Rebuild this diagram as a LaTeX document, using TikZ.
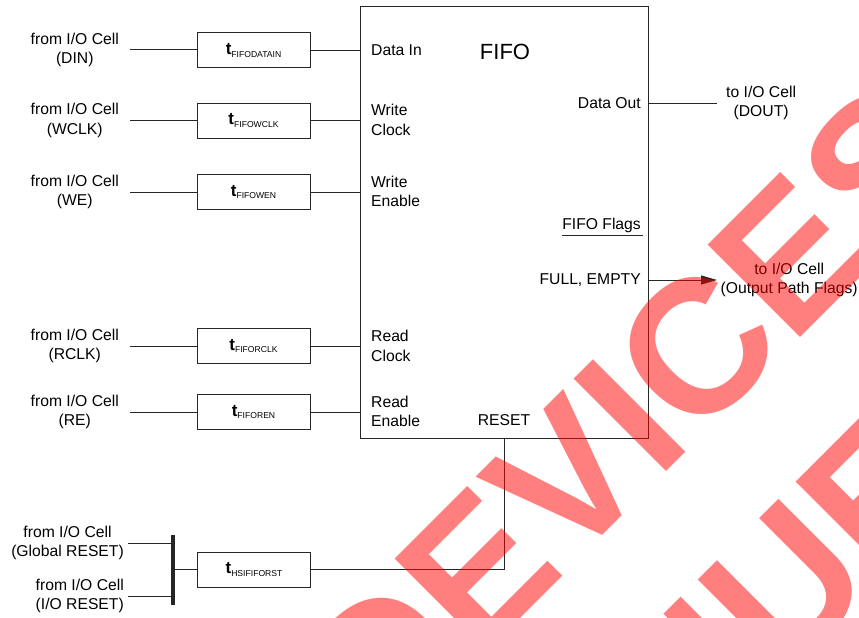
\documentclass[tikz,border=0pt]{standalone}
\usepackage{fontspec}
\setmainfont{Liberation Sans}
\usetikzlibrary{arrows.meta}
\newcommand{\tdly}[1]{{\fontsize{17}{17}\selectfont\bfseries t}\raisebox{-2.5pt}{\fontsize{8.6}{8.6}\selectfont #1}}

\begin{document}
\begin{tikzpicture}[
    x=1pt, y=-1pt,
    >={Triangle[length=16pt,width=9pt]},
    every node/.style={font=\fontsize{15.7}{19.3}\selectfont},
    wire/.style={draw=black!85, line width=1pt},
    delaybox/.style={wire, rectangle, minimum width=113pt, minimum height=35pt, inner sep=0pt},
    src/.style={anchor=east, align=center, inner xsep=11pt, inner ysep=0pt},
    dst/.style={anchor=west, align=center, inner xsep=9pt, inner ysep=0pt},
    pinl/.style={anchor=west, align=left, inner sep=0pt},
    pinr/.style={anchor=east, align=right, inner sep=0pt},
    wmark/.style={rotate=45, text=red, text opacity=0.5, inner sep=0pt, font=\fontsize{190}{190}\selectfont\bfseries}
]
  \useasboundingbox (0,0) rectangle (859,618);

  % FIFO block
  \node[wire, rectangle, minimum width=288pt, minimum height=431pt, inner sep=0pt] (fifo) at (504,222.5) {};
  \node[font=\fontsize{22}{22}\selectfont] (title) at (505,52) {FIFO};

  % Inputs
  \node[src] (inDIN) at (130,50) {from I/O Cell\\(DIN)};
  \node[src] (inWCLK) at (130,120.5) {from I/O Cell\\(WCLK)};
  \node[src] (inWE) at (130,192) {from I/O Cell\\(WE)};
  \node[src] (inRCLK) at (130,346) {from I/O Cell\\(RCLK)};
  \node[src] (inRE) at (130,412) {from I/O Cell\\(RE)};

  \node[delaybox] (dDIN) at (253.5,50.5) {\tdly{FIFODATAIN}};
  \node[delaybox] (dWCLK) at (253.5,120.5) {\tdly{FIFOWCLK}};
  \node[delaybox] (dWE) at (253.5,192) {\tdly{FIFOWEN}};
  \node[delaybox] (dRCLK) at (253.5,346) {\tdly{FIFORCLK}};
  \node[delaybox] (dRE) at (253.5,412) {\tdly{FIFOREN}};

  \node[pinl] (pDIN) at (371,50) {Data In};
  \node[pinl] (pWCLK) at (371,120) {Write\\Clock};
  \node[pinl] (pWE) at (371,191.5) {Write\\Enable};
  \node[pinl] (pRCLK) at (371,346) {Read\\Clock};
  \node[pinl] (pRE) at (371,411.5) {Read\\Enable};

  \draw[wire] (inDIN.east) -- (inDIN.east -| dDIN.west);
  \draw[wire] (inWCLK.east) -- (inWCLK.east -| dWCLK.west);
  \draw[wire] (inWE.east) -- (inWE.east -| dWE.west);
  \draw[wire] (inRCLK.east) -- (inRCLK.east -| dRCLK.west);
  \draw[wire] (inRE.east) -- (inRE.east -| dRE.west);
  \draw[wire] (dDIN.east) -- (dDIN.east -| fifo.west);
  \draw[wire] (dWCLK.east) -- (dWCLK.east -| fifo.west);
  \draw[wire] (dWE.east) -- (dWE.east -| fifo.west);
  \draw[wire] (dRCLK.east) -- (dRCLK.east -| fifo.west);
  \draw[wire] (dRE.east) -- (dRE.east -| fifo.west);

  % Outputs
  \node[pinr] (pDOUT) at (641,103) {Data Out};
  \node[pinr] (pFLG) at (641,225.5) {FIFO Flags};
  \node[pinr] (pFE) at (641,280) {FULL, EMPTY};
  \node[dst] (oDOUT) at (717,103) {to I/O Cell\\(DOUT)};
  \node[dst, inner xsep=3.5pt] (oFLG) at (717,280) {to I/O Cell\\(Output Path Flags)};

  \draw[wire] ([yshift=-2.5pt]pFLG.south west) -- ([xshift=2pt,yshift=-2.5pt]pFLG.south east);
  \draw[wire] (oDOUT.west -| fifo.east) -- (oDOUT.west);
  \draw[wire, ->] (oFLG.west -| fifo.east) -- (oFLG.west);

  % Reset path
  \node[pinr, anchor=center] (pRST) at (504,420) {RESET};
  \node[src, inner xsep=4pt] (inGRST) at (128,543) {from I/O Cell\\(Global RESET)};
  \node[src, inner xsep=4pt] (inIORST) at (128,596) {from I/O Cell\\(I/O RESET)};
  \coordinate (busT) at (173,535);
  \coordinate (busB) at (173,605);
  \node[delaybox] (dRST) at (254,569.5) {\tdly{HSIFIFORST}};

  \draw[line width=4pt, black!85] (busT) -- (busB);
  \draw[wire] (inGRST.east) -- (inGRST.east -| busT);
  \draw[wire] (inIORST.east) -- (inIORST.east -| busT);
  \draw[wire] (dRST.west -| busT) -- (dRST.west);
  \draw[wire] (dRST.east) -| (pRST |- fifo.south);

  % Watermark
  \begin{scope}
    \clip (0,0) rectangle (859,618);
    \node[wmark] (wmA) at (630,416) {DEVICES};
    \node[wmark] (wmB) at (509,862) {DISCONTINUED};
  \end{scope}
\end{tikzpicture}
\end{document}
